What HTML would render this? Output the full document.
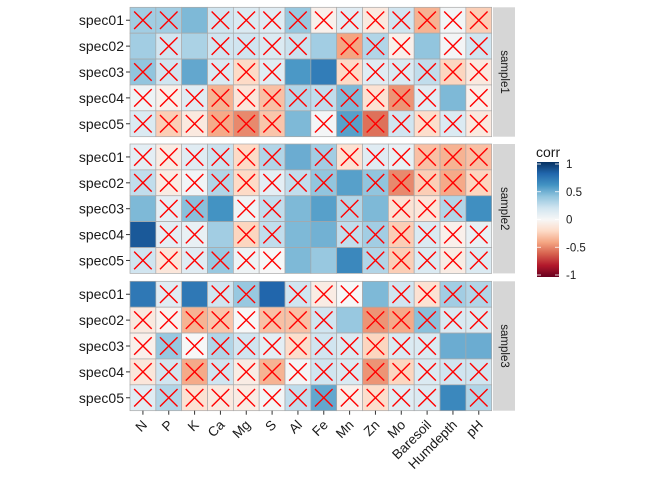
<!DOCTYPE html>
<html><head><meta charset="utf-8"><style>
html,body{margin:0;padding:0;background:#fff;}
svg text{font-family:"Liberation Sans",Arial,sans-serif;}
</style></head><body>
<svg id="chart" width="672" height="480" xmlns="http://www.w3.org/2000/svg">
<defs><linearGradient id="rdbu" x1="0" y1="1" x2="0" y2="0">
<stop offset="0" stop-color="#67001F"/><stop offset="0.1" stop-color="#B2182B"/><stop offset="0.2" stop-color="#D6604D"/><stop offset="0.3" stop-color="#F4A582"/><stop offset="0.4" stop-color="#FDDBC7"/><stop offset="0.5" stop-color="#F7F7F7"/><stop offset="0.6" stop-color="#D1E5F0"/><stop offset="0.7" stop-color="#92C5DE"/><stop offset="0.8" stop-color="#4393C3"/><stop offset="0.9" stop-color="#2166AC"/><stop offset="1" stop-color="#053061"/>
</linearGradient></defs>
</svg>
<script>
const columns = ["N","P","K","Ca","Mg","S","Al","Fe","Mn","Zn","Mo","Baresoil","Humdepth","pH"];
const rows = ["spec01","spec02","spec03","spec04","spec05"];
const panels = ["sample1","sample2","sample3"];
const corrSample1 = [
 [0.35,0.35,0.45,0.2,0.15,0.12,0.38,-0.05,0.12,-0.1,0.2,-0.35,0.02,-0.25],
 [0.35,0.2,0.32,0.2,0.2,0.15,0.22,0.35,-0.4,0.3,-0.05,0.4,0.02,0.2],
 [0.4,0.2,0.52,0.15,-0.2,0.12,0.58,0.7,-0.2,0.12,0.15,0.25,-0.22,-0.1],
 [0.05,-0.05,0.12,-0.35,-0.12,-0.3,0.3,0.25,0.45,-0.15,-0.45,0.12,0.45,-0.05],
 [0.15,-0.25,-0.1,-0.38,-0.48,-0.28,0.45,0.02,0.55,-0.55,0.2,-0.18,0.15,-0.1]];
const sigSample1 = [
 [1,1,0,1,1,1,1,1,1,1,1,1,1,1],
 [0,1,0,1,1,1,1,0,1,1,1,0,1,1],
 [1,1,0,1,1,1,0,0,1,1,1,1,1,1],
 [1,1,1,1,1,1,1,1,1,1,1,1,0,1],
 [1,1,1,1,1,1,0,1,1,1,1,1,1,1]];
const corrSample2 = [
 [0.1,-0.08,0.12,0.22,-0.2,0.3,0.5,0.35,-0.15,0.12,0.08,-0.3,-0.35,-0.3],
 [0.25,-0.08,0.03,0.3,-0.2,0.1,0.25,0.4,0.55,0.4,-0.48,-0.25,-0.38,-0.22],
 [0.45,0.1,0.42,0.6,0.05,0.25,0.45,0.55,0.3,0.45,-0.15,-0.12,0.3,0.62],
 [0.85,0.1,0.08,0.35,-0.22,0.25,0.45,0.48,0.25,0.35,-0.25,0.15,-0.05,0.08],
 [0.2,-0.12,0.12,0.38,0.05,0.0,0.45,0.38,0.65,0.3,-0.25,0.15,-0.08,0.15]];
const sigSample2 = [
 [1,1,1,1,1,1,0,1,1,1,1,1,1,1],
 [1,1,1,1,1,1,1,1,0,1,1,1,1,1],
 [0,1,1,0,1,1,0,0,1,0,1,1,1,0],
 [0,1,1,0,1,1,0,0,1,1,1,1,1,1],
 [1,1,1,1,1,1,0,0,0,1,1,1,1,1]];
const corrSample3 = [
 [0.72,0.12,0.72,0.2,0.38,0.8,0.2,-0.08,0.0,0.45,0.2,-0.15,0.35,0.3],
 [-0.1,-0.03,-0.35,-0.28,0.0,-0.3,-0.3,0.2,0.38,-0.45,-0.38,0.42,0.15,0.15],
 [-0.05,0.38,0.0,0.3,0.2,0.1,-0.18,0.2,0.15,-0.22,0.15,0.15,0.5,0.5],
 [-0.12,0.2,-0.38,0.2,-0.08,-0.35,0.02,0.2,0.15,-0.45,-0.22,0.15,0.2,0.2],
 [0.12,0.3,-0.15,-0.1,-0.08,0.02,0.25,0.52,-0.05,-0.18,0.12,0.15,0.65,0.3]];
const sigSample3 = [
 [0,1,0,1,1,0,1,1,1,0,1,1,1,1],
 [1,1,1,1,1,1,1,1,0,1,1,1,1,1],
 [1,1,1,1,1,1,1,1,1,1,1,1,0,0],
 [1,1,1,1,1,1,1,1,1,1,1,1,1,1],
 [1,1,1,1,1,1,1,1,1,1,1,1,0,1]];
const legendTicks = [1,0.5,0,-0.5,-1];

const corrAll=[corrSample1,corrSample2,corrSample3], sigAll=[sigSample1,sigSample2,sigSample3];
const svg=document.getElementById('chart'), NS='http://www.w3.org/2000/svg';
function mk(t,a,p){const e=document.createElementNS(NS,t);for(const k in a)e.setAttribute(k,a[k]);(p||svg).appendChild(e);return e;}
const X0=130, X1=491.7, cw=(X1-X0)/columns.length;
const panelTop=[7.3,144,281.3], ph=129.4, rh=ph/rows.length;
const x=i=>X0+i*cw, y=(p,j)=>panelTop[p]+j*rh;
const stops=[[-1,[103,0,31]],[-0.8,[178,24,43]],[-0.6,[214,96,77]],[-0.4,[244,165,130]],[-0.2,[253,219,199]],[0,[247,247,247]],[0.2,[209,229,240]],[0.4,[146,197,222]],[0.6,[67,147,195]],[0.8,[33,102,172]],[1,[5,48,97]]];
function color(v){v=Math.max(-1,Math.min(1,v));for(let i=0;i<stops.length-1;i++){const a=stops[i],b=stops[i+1];if(v<=b[0]){const t=(v-a[0])/(b[0]-a[0]);return 'rgb('+a[1].map((c,k)=>Math.round(c+(b[1][k]-c)*t)).join(',')+')';}}return 'rgb(5,48,97)';}
panels.forEach((pn,p)=>{
 const g=mk('g',{});
 
 
 rows.forEach((r,j)=>{columns.forEach((c,i)=>{
  const v=corrAll[p][j][i];
  const rc=mk('rect',{x:x(i),y:y(p,j),width:cw,height:rh,fill:color(v),stroke:'#a8a8a8','stroke-width':0.7},g);
  
  
  if(sigAll[p][j][i]){const cx=x(i)+cw/2, cy=y(p,j)+rh/2, d=cw*0.34;
   const m=mk('path',{d:`M${cx-d} ${cy-d}L${cx+d} ${cy+d}M${cx+d} ${cy-d}L${cx-d} ${cy+d}`,stroke:'#FF0000','stroke-width':1.4,fill:'none'},g);
   
   }
 });
 const cy=y(p,j)+rh/2;
 const tk=mk('line',{x1:X0-4,x2:X0,y1:cy,y2:cy,stroke:'#333','stroke-width':1},g);
 
 
 const t=mk('text',{x:X0-6,y:cy+5,'text-anchor':'end','font-size':14,fill:'#1a1a1a'},g);t.textContent=r;
 
 
 });
 const s=mk('rect',{x:493,y:panelTop[p],width:22,height:ph,fill:'#d6d6d6'},g);
 
 
 const sx=504,sy=panelTop[p]+ph/2;
 const st=mk('text',{x:sx,y:sy,'text-anchor':'middle','dominant-baseline':'central','font-size':11.5,fill:'#1a1a1a',transform:`rotate(90 ${sx} ${sy})`},g);st.textContent=pn;
 
 
});
const bottom=panelTop[2]+ph;
columns.forEach((c,i)=>{const cx=x(i)+cw/2;
 const tk=mk('line',{x1:cx,x2:cx,y1:bottom,y2:bottom+4,stroke:'#333','stroke-width':1});
 
 
 const tx=cx+5, ty=bottom+15;
 const t=mk('text',{x:tx,y:ty,'text-anchor':'end','font-size':13.5,fill:'#1a1a1a',transform:`rotate(-45 ${tx} ${ty})`});t.textContent=c;
 
 
});
const lt=mk('text',{x:536,y:157,'font-size':14,fill:'#1a1a1a'});lt.textContent='corr';


const bar=mk('rect',{x:537,y:162,width:22,height:115,fill:'url(#rdbu)'});


const ly=v=>219.5-v*55.5;
legendTicks.forEach(v=>{
 const l=mk('line',{x1:537,x2:541,y1:ly(v),y2:ly(v),stroke:'#fff','stroke-width':0.8});
 
 
 const l2=mk('line',{x1:555,x2:559,y1:ly(v),y2:ly(v),stroke:'#fff','stroke-width':0.8});
 
 
 const t=mk('text',{x:566,y:ly(v)+4,'font-size':11.5,fill:'#1a1a1a'});t.textContent=String(v);
 
 
});
</script>
</body></html>
